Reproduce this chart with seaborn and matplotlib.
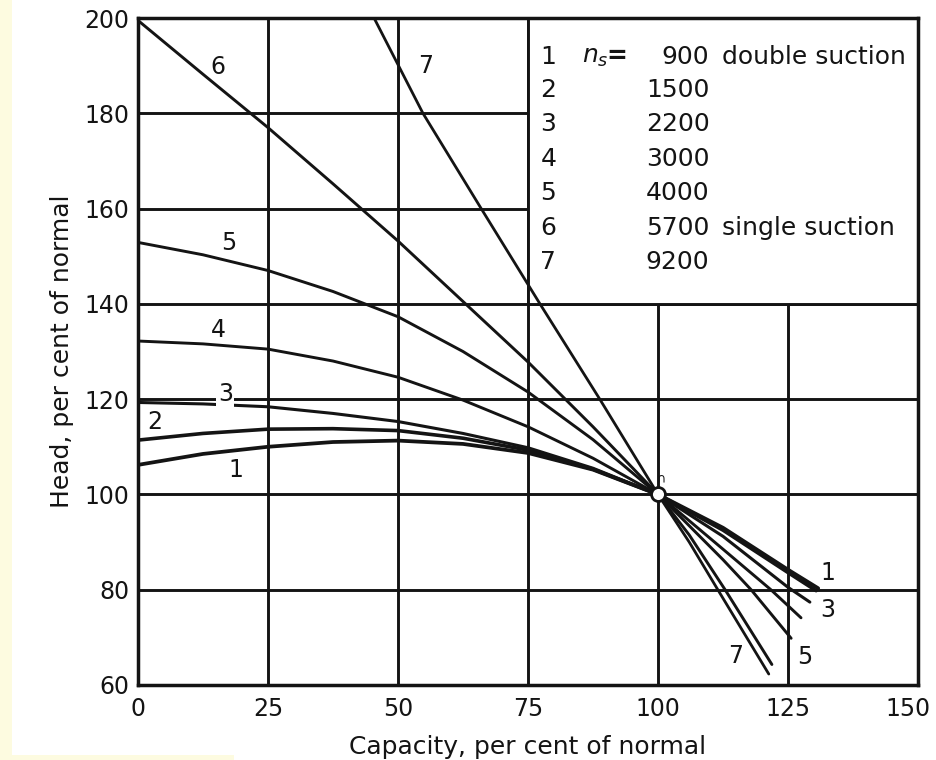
import matplotlib
matplotlib.use("Agg")
import matplotlib.pyplot as plt
import matplotlib.transforms as mtransforms
import seaborn as sns
import pandas as pd
from matplotlib.patches import Rectangle

# head-capacity curves (capacity %, head %)
cap1 = [0, 12.5, 25, 37.5, 50, 62.5, 75, 87.5, 100, 112.5, 125, 130.8]
head1 = [106.2, 108.5, 110.0, 111.0, 111.3, 110.6, 108.7, 105.2, 100, 93.0, 84.2, 80.3]
cap2 = [0, 12.5, 25, 37.5, 50, 62.5, 75, 87.5, 100, 112.5, 125, 130.4]
head2 = [111.4, 112.8, 113.7, 113.8, 113.4, 111.8, 109.3, 105.3, 100, 92.5, 83.6, 79.8]
cap3 = [0, 12.5, 25, 37.5, 50, 62.5, 75, 87.5, 100, 112.5, 125, 129.2]
head3 = [119.3, 119.0, 118.4, 117.0, 115.3, 112.8, 109.8, 105.5, 100, 91.2, 80.5, 77.4]
cap4 = [0, 12.5, 25, 37.5, 50, 62.5, 75, 87.5, 100, 112.5, 121.7, 127.5]
head4 = [132.2, 131.6, 130.5, 128.0, 124.6, 119.8, 114.2, 107.6, 100, 88.5, 80, 74.1]
cap5 = [0, 12.5, 25, 37.5, 50, 62.5, 75, 87.5, 100, 112.5, 117.9, 125.6]
head5 = [152.9, 150.3, 147.0, 142.6, 137.3, 130.0, 121.5, 111.5, 100, 86.3, 80, 69.8]
cap6 = [0, 12.5, 25, 37.5, 50, 62.5, 75, 87.5, 100, 106, 112.9, 121.9]
head6 = [199.5, 188.2, 177.0, 165.2, 153.2, 140.5, 127.8, 114.2, 100, 91.5, 80, 64.3]
cap7 = [45.4, 54.8, 66, 77.3, 88.8, 100, 106, 111.5, 121.3]
head7 = [200, 180, 160, 140, 120, 100, 90, 80, 62.3]

curve_caps = [cap1, cap2, cap3, cap4, cap5, cap6, cap7]
curve_heads = [head1, head2, head3, head4, head5, head6, head7]

# legend table
curve_ids = ["1", "2", "3", "4", "5", "6", "7"]
ns_values = ["900", "1500", "2200", "3000", "4000", "5700", "9200"]
ns_notes = ["double suction", "", "", "", "", "single suction", ""]

xticks = [0, 25, 50, 75, 100, 125, 150]
yticks = [60, 80, 100, 120, 140, 160, 180, 200]

ink = "#141414"

sns.set_style("white")
plt.rcParams["font.family"] = ["DejaVu Sans"]

fig = plt.figure(figsize=(9.36, 7.6), dpi=100)
fig.patch.set_facecolor("white")
# pale yellow edges of the scan
fig.patches.append(Rectangle((0, 0), 0.013, 1, transform=fig.transFigure,
                             facecolor="#fdfbe0", edgecolor="none", zorder=0))
fig.patches.append(Rectangle((0, 0), 0.25, 0.006, transform=fig.transFigure,
                             facecolor="#fdfbe0", edgecolor="none", zorder=0))
ax = fig.add_axes([0.1474, 0.0987, 0.8334, 0.8776])
ax.set_facecolor("white")

ax.set_xlim(0, 150)
ax.set_ylim(60, 200)
ax.set_xticks(xticks)
ax.set_yticks(yticks)
ax.grid(True, color=ink, lw=2.1, zorder=1)
ax.tick_params(length=0, labelsize=17, colors=ink)
ax.tick_params(axis="y", pad=6)
ax.tick_params(axis="x", pad=9)
for s in ax.spines.values():
    s.set_linewidth(2.5)
    s.set_color(ink)
    s.set_zorder(5)

# pull the last x label back inside the picture, as in the scan
last = ax.get_xticklabels()[-1]
last.set_transform(last.get_transform() +
                   mtransforms.ScaledTranslation(-10 / 100, 0, fig.dpi_scale_trans))

# white legend box in the upper right corner
ax.add_patch(Rectangle((75, 140), 75, 60, facecolor="white",
                       edgecolor=ink, lw=2.1, zorder=2))

widths = [2.7, 2.6, 2.2, 2.1, 2.1, 2.1, 2.0]
for i in range(7):
    df = pd.DataFrame({"cap": curve_caps[i], "head": curve_heads[i]})
    sns.lineplot(data=df, x="cap", y="head", ax=ax, color=ink,
                 lw=widths[i], sort=False, estimator=None, zorder=3)

ax.plot([100], [100], "o", ms=10, mfc="white", mec=ink, mew=2, zorder=6)
ax.text(100.6, 103.3, "∩", fontsize=9, ha="center", va="center", color=ink, zorder=6)

lbl = dict(fontsize=17, ha="center", va="center", color=ink, zorder=4)
ax.text(15.3, 189.8, "6", **lbl)
ax.text(55.3, 190.0, "7", **lbl)
ax.text(17.4, 152.8, "5", **lbl)
ax.text(15.5, 134.5, "4", **lbl)
ax.text(16.8, 121.0, "3", bbox=dict(fc="white", ec="none", pad=1.0), **lbl)
ax.text(3.3, 115.2, "2", **lbl)
ax.text(18.8, 105.1, "1", **lbl)
ax.text(132.6, 83.6, "1", **lbl)
ax.text(132.6, 75.8, "3", **lbl)
ax.text(128.3, 65.8, "5", **lbl)
ax.text(115.0, 66.0, "7", **lbl)

row_y = [191.8, 184.9, 177.8, 170.4, 163.3, 155.9, 148.8]
tf = dict(fontsize=18, va="center", color=ink, zorder=4)
for i in range(7):
    ax.text(77.4, row_y[i], curve_ids[i], ha="left", **tf)
    ax.text(109.9, row_y[i], ns_values[i], ha="right", **tf)
    if ns_notes[i]:
        ax.text(112.3, row_y[i], ns_notes[i], ha="left", **tf)
ax.text(85.3, row_y[0], r"$n_s$", ha="left", **tf)
ax.text(90.0, row_y[0] + 0.3, "=", ha="left", fontweight="bold", **tf)

ax.set_xlabel("Capacity, per cent of normal", fontsize=18, labelpad=10, color=ink)
ax.set_ylabel("Head, per cent of normal", fontsize=18, labelpad=8, color=ink)

fig.savefig("out.png", dpi=100)
